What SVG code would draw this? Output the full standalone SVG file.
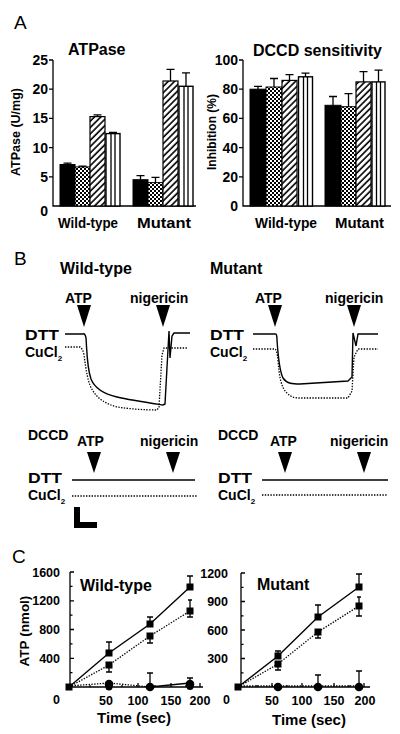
<svg xmlns="http://www.w3.org/2000/svg" width="400" height="734" viewBox="0 0 400 734">
<defs>
<pattern id="chk" patternUnits="userSpaceOnUse" width="4" height="4"><rect width="4" height="4" fill="#fff"/><rect x="0" y="0" width="2" height="2" fill="#000"/><rect x="2" y="2" width="2" height="2" fill="#000"/></pattern>
<pattern id="hat" patternUnits="userSpaceOnUse" width="4.5" height="4.5" patternTransform="rotate(45)"><rect width="4.5" height="4.5" fill="#fff"/><line x1="1" y1="0" x2="1" y2="4.5" stroke="#000" stroke-width="1.6"/></pattern>
</defs>
<style>
text{font-family:"Liberation Sans",Arial,sans-serif;font-weight:bold;fill:#000}
.pl{font-weight:normal;font-size:19px}
.ttl{font-size:16px}
.tk{font-size:14px;text-anchor:end}
.tkc{font-size:12.5px;text-anchor:middle}
.tky{font-size:12.5px;text-anchor:end}
.ax{stroke:#000;stroke-width:1.3;fill:none}
.blk{fill:#000;stroke:#000;stroke-width:1}
.chk{fill:url(#chk);stroke:#000;stroke-width:1}
.hat{fill:url(#hat);stroke:#000;stroke-width:1.2}
.str{fill:#fff;stroke:#000;stroke-width:1.4}
.eb{stroke:#000;stroke-width:1.3;fill:none}
.sol{stroke:#000;stroke-width:1.4;fill:none}
.dot{stroke:#000;stroke-width:1.3;fill:none;stroke-dasharray:1.4 1.4}
.tri{fill:#000}
.sq{fill:#000}
</style>

<!-- Panel A -->
<text class="pl" x="14" y="29">A</text>

<g id="chart-atpase">
<text class="ttl" x="68" y="55">ATPase</text>
<path class="ax" d="M53,60 V206 H196 M49,60 H53 M49,89.2 H53 M49,118.4 H53 M49,147.6 H53 M49,176.8 H53"/>
<text class="tk" x="48" y="65">25</text>
<text class="tk" x="48" y="94">20</text>
<text class="tk" x="48" y="123">15</text>
<text class="tk" x="48" y="153">10</text>
<text class="tk" x="48" y="182">5</text>
<text class="tk" x="48" y="216">0</text>
<text font-size="12.5" transform="translate(19.5,132) rotate(-90)" text-anchor="middle">ATPase (U/mg)</text>
<!-- WT -->
<rect class="blk" x="60" y="164.5" width="15" height="41.5"/>
<rect class="chk" x="75" y="166.9" width="15" height="39.1"/>
<rect class="hat" x="90" y="116.6" width="15" height="89.4"/>
<rect class="str" x="106" y="133.6" width="14" height="72.4"/>
<path class="eb" d="M111,133.6 V206 M115,133.6 V206"/>
<path class="eb" d="M67.5,164.5 V163.2 M63.5,163.2 H71.5 M82.5,166.9 V166.2 M78.5,166.2 H86.5 M97.5,116.6 V114.9 M93.5,114.9 H101.5 M113,133.6 V132.3 M109,132.3 H117"/>
<!-- Mutant -->
<rect class="blk" x="133" y="179.7" width="15" height="26.3"/>
<rect class="chk" x="148" y="182.6" width="15" height="23.4"/>
<rect class="hat" x="163" y="81" width="15" height="125"/>
<rect class="str" x="179" y="86.3" width="14" height="119.7"/>
<path class="eb" d="M184,86.3 V206 M188,86.3 V206"/>
<path class="eb" d="M140.5,179.7 V175.6 M136.5,175.6 H144.5 M155.5,182.6 V177.4 M151.5,177.4 H159.5 M170.5,81 V69.3 M166.5,69.3 H174.5 M186,86.3 V72.8 M182,72.8 H190"/>
<text font-size="14.5" x="58" y="228" textLength="60" lengthAdjust="spacingAndGlyphs">Wild-type</text>
<text font-size="14.5" x="137" y="228" textLength="54" lengthAdjust="spacingAndGlyphs">Mutant</text>
</g>

<g id="chart-dccd">
<text class="ttl" x="253" y="56">DCCD sensitivity</text>
<path class="ax" d="M243,60 V206 H391 M239,60 H243 M239,89.2 H243 M239,118.4 H243 M239,147.6 H243 M239,176.8 H243"/>
<text class="tk" x="238" y="65">100</text>
<text class="tk" x="238" y="94">80</text>
<text class="tk" x="238" y="123">60</text>
<text class="tk" x="238" y="153">40</text>
<text class="tk" x="238" y="182">20</text>
<text class="tk" x="238" y="211">0</text>
<text font-size="12" transform="translate(216,132) rotate(-90)" text-anchor="middle">Inhibition (%)</text>
<!-- WT -->
<rect class="blk" x="250" y="89.2" width="16" height="116.8"/>
<rect class="chk" x="266" y="87" width="16" height="119"/>
<rect class="hat" x="282" y="80.4" width="15" height="125.6"/>
<rect class="str" x="298.5" y="76.8" width="14" height="129.2"/>
<path class="eb" d="M303.5,76.8 V206 M307.5,76.8 V206"/>
<path class="eb" d="M258,89.2 V86.3 M254,86.3 H262 M274,87 V78.5 M270,78.5 H278 M289.5,80.4 V74.6 M285.5,74.6 H293.5 M305.5,76.8 V73.1 M301.5,73.1 H309.5"/>
<!-- Mutant -->
<rect class="blk" x="325" y="105.3" width="16" height="100.7"/>
<rect class="chk" x="341" y="106.7" width="15" height="99.3"/>
<rect class="hat" x="356" y="81.9" width="15" height="124.1"/>
<rect class="str" x="372" y="81.9" width="13" height="124.1"/>
<path class="eb" d="M376.5,81.9 V206 M380.5,81.9 V206"/>
<path class="eb" d="M333,105.3 V96.5 M329,96.5 H337 M348.5,106.7 V93.6 M344.5,93.6 H352.5 M363.5,81.9 V71.7 M359.5,71.7 H367.5 M378.5,81.9 V70.2 M374.5,70.2 H382.5"/>
<text font-size="14.5" x="255" y="228" textLength="62" lengthAdjust="spacingAndGlyphs">Wild-type</text>
<text font-size="14.5" x="335" y="228" textLength="49" lengthAdjust="spacingAndGlyphs">Mutant</text>
</g>

<!-- Panel B -->
<text class="pl" x="14" y="265">B</text>

<g id="trace-wt">
<text class="ttl" x="60" y="274">Wild-type</text>
<text font-size="14" x="65" y="303">ATP</text>
<text font-size="14" x="130" y="303">nigericin</text>
<polygon class="tri" points="77,305 91,305 84,327"/>
<polygon class="tri" points="156,305 170,305 163,327"/>
<text font-size="15" x="25" y="340" textLength="34" lengthAdjust="spacingAndGlyphs">DTT</text>
<text font-size="14" x="25" y="357">CuCl<tspan font-size="8" dy="4">2</tspan></text>
<path class="sol" d="M65,334 L83,334 Q85,333 86,338 C87,352 87,368 91,379 C95,389 104,394 117,397 C130,400 150,403 163,405 L165,404 L169,331 L170,358 L172,336 L174,333 L190,333"/>
<path class="dot" d="M65,347 L80,347 Q83,349 84,355 C86,370 88,384 93,391 C98,399 106,404 117,407 C130,409 145,410 157,410 L159,407 L162,355 L164,348 L188,348"/>
</g>

<g id="trace-mut">
<text class="ttl" x="210" y="274">Mutant</text>
<text font-size="14" x="255" y="303">ATP</text>
<text font-size="14" x="325" y="303">nigericin</text>
<polygon class="tri" points="268,305 282,305 275,327"/>
<polygon class="tri" points="347,305 361,305 354,327"/>
<text font-size="15" x="210" y="340" textLength="34" lengthAdjust="spacingAndGlyphs">DTT</text>
<text font-size="14" x="210" y="357">CuCl<tspan font-size="8" dy="4">2</tspan></text>
<path class="sol" d="M253,334 L275,334 Q277,333 277,340 C278,355 279,370 283,378 C287,384 293,384 300,384 L348,381 L352,377 L353,333 L356,346 L358,334 L378,334"/>
<path class="dot" d="M253,349 L275,349 Q277,350 278,360 C279,375 281,388 287,393 C292,398 296,398 300,398 L348,398 L352,391 L354,357 L358,349 L378,349"/>
</g>

<g id="trace-wt-dccd">
<text font-size="14" x="28" y="440">DCCD</text>
<text font-size="14" x="77" y="446">ATP</text>
<text font-size="14" x="140" y="446">nigericin</text>
<polygon class="tri" points="87,452 101,452 94,473"/>
<polygon class="tri" points="166,452 180,452 173,473"/>
<text font-size="15" x="28" y="483" textLength="34" lengthAdjust="spacingAndGlyphs">DTT</text>
<text font-size="14" x="28" y="500">CuCl<tspan font-size="8" dy="4">2</tspan></text>
<path class="sol" d="M72,480 H195"/>
<path class="dot" d="M72,496 H197"/>
<path d="M74,507 H80 V522 H97 V528 H74 Z" fill="#000"/>
</g>

<g id="trace-mut-dccd">
<text font-size="14" x="218" y="440">DCCD</text>
<text font-size="14" x="270" y="446">ATP</text>
<text font-size="14" x="330" y="446">nigericin</text>
<polygon class="tri" points="278,452 292,452 285,473"/>
<polygon class="tri" points="357,452 371,452 364,473"/>
<text font-size="15" x="218" y="483" textLength="34" lengthAdjust="spacingAndGlyphs">DTT</text>
<text font-size="14" x="218" y="500">CuCl<tspan font-size="8" dy="4">2</tspan></text>
<path class="sol" d="M262,480 H388"/>
<path class="dot" d="M262,495 H388"/>
</g>

<!-- Panel C -->
<text class="pl" x="12" y="563">C</text>

<g id="plot-wt">
<path class="ax" d="M70,572 V687 H203 M70,572 H74 M70,586.4 H72.5 M70,600.8 H74 M70,615.1 H72.5 M70,629.5 H74 M70,643.9 H72.5 M70,658.3 H74 M70,672.6 H72.5 M106,687 V683 M138,687 V683 M171,687 V683 M200,687 V683 M90,687 V685 M122,687 V685 M155,687 V685 M186,687 V685"/>
<text class="tky" x="60" y="577">1600</text>
<text class="tky" x="60" y="605">1200</text>
<text class="tky" x="60" y="634">800</text>
<text class="tky" x="60" y="663">400</text>
<text class="tky" x="60" y="704">0</text>
<text class="tkc" x="106" y="705">50</text>
<text class="tkc" x="138" y="705">100</text>
<text class="tkc" x="171" y="705">150</text>
<text class="tkc" x="200" y="705">200</text>
<text font-size="15" x="97" y="723">Time (sec)</text>
<text font-size="13.5" transform="translate(29,631) rotate(-90)" text-anchor="middle">ATP (nmol)</text>
<text class="ttl" x="80" y="591">Wild-type</text>
<path class="sol" d="M69,687 L109,653 L150,624 L190,587"/>
<path class="dot" d="M69,687 L109,665 L150,636 L190,611"/>
<path class="dot" d="M69,686 L109,683 L150,687"/>
<path class="sol" d="M150,687 L190,683"/>
<path class="eb" d="M109,653 V642 M106,642 H112 M150,624 V617 M147,617 H153 M190,587 V576 M187,576 H193 M109,665 V672 M106,672 H112 M150,636 V643 M147,643 H153 M190,611 V617 M187,617 H193 M190,611 V600 M188,600 H192 M150,687 V673 M147,673 H153 M190,683 V678 M187,678 H193"/>
<rect class="sq" x="65.5" y="683.5" width="7" height="7"/>
<rect class="sq" x="105.5" y="649.5" width="7" height="7"/>
<rect class="sq" x="146.5" y="620.5" width="7" height="7"/>
<rect class="sq" x="186.5" y="583.5" width="7" height="7"/>
<rect class="sq" x="105.5" y="661.5" width="7" height="7"/>
<rect class="sq" x="146.5" y="632.5" width="7" height="7"/>
<rect class="sq" x="186.5" y="607.5" width="7" height="7"/>
<circle cx="109" cy="684" r="4.3"/>
<circle cx="150" cy="687" r="4.3"/>
<circle cx="190" cy="684" r="4.3"/>
<circle cx="109" cy="687" r="3.5"/>
<circle cx="190" cy="686.5" r="3.5"/>
</g>

<g id="plot-mut">
<path class="ax" d="M241,573 V687 H370 M241,573 H245 M241,587.3 H243.5 M241,601.5 H245 M241,615.8 H243.5 M241,630 H245 M241,644.3 H243.5 M241,658.5 H245 M241,672.8 H243.5 M272,687 V683 M302,687 V683 M334,687 V683 M364,687 V683 M257,687 V685 M287,687 V685 M318,687 V685 M349,687 V685"/>
<text class="tky" x="228" y="578">1200</text>
<text class="tky" x="228" y="606">900</text>
<text class="tky" x="228" y="635">600</text>
<text class="tky" x="228" y="663">300</text>
<text class="tky" x="230" y="704">0</text>
<text class="tkc" x="272" y="705">50</text>
<text class="tkc" x="302" y="705">100</text>
<text class="tkc" x="334" y="705">150</text>
<text class="tkc" x="365" y="705">200</text>
<text font-size="15" x="272" y="725">Time (sec)</text>
<text class="ttl" x="257" y="590" font-size="16.5">Mutant</text>
<path class="sol" d="M238,687 L278,656 L318,617 L359,587"/>
<path class="dot" d="M238,687 L278,664 L318,632 L359,606"/>
<path class="dot" d="M238,686 L359,686"/>
<path class="eb" d="M278,656 V651 M275,651 H281 M318,617 V605 M315,605 H321 M359,587 V574 M356,574 H362 M278,664 V670 M275,670 H281 M318,632 V638 M315,638 H321 M359,606 V616 M356,616 H362 M359,606 V597 M357,597 H361 M318,687 V675 M315,675 H321 M359,687 V671 M356,671 H362"/>
<rect class="sq" x="234.5" y="683.5" width="7" height="7"/>
<rect class="sq" x="274.5" y="652.5" width="7" height="7"/>
<rect class="sq" x="314.5" y="613.5" width="7" height="7"/>
<rect class="sq" x="355.5" y="583.5" width="7" height="7"/>
<rect class="sq" x="274.5" y="660.5" width="7" height="7"/>
<rect class="sq" x="314.5" y="628.5" width="7" height="7"/>
<rect class="sq" x="355.5" y="602.5" width="7" height="7"/>
<circle cx="278" cy="687" r="4.3"/>
<circle cx="318" cy="687" r="4.3"/>
<circle cx="359" cy="687" r="4.3"/>
</g>
</svg>
